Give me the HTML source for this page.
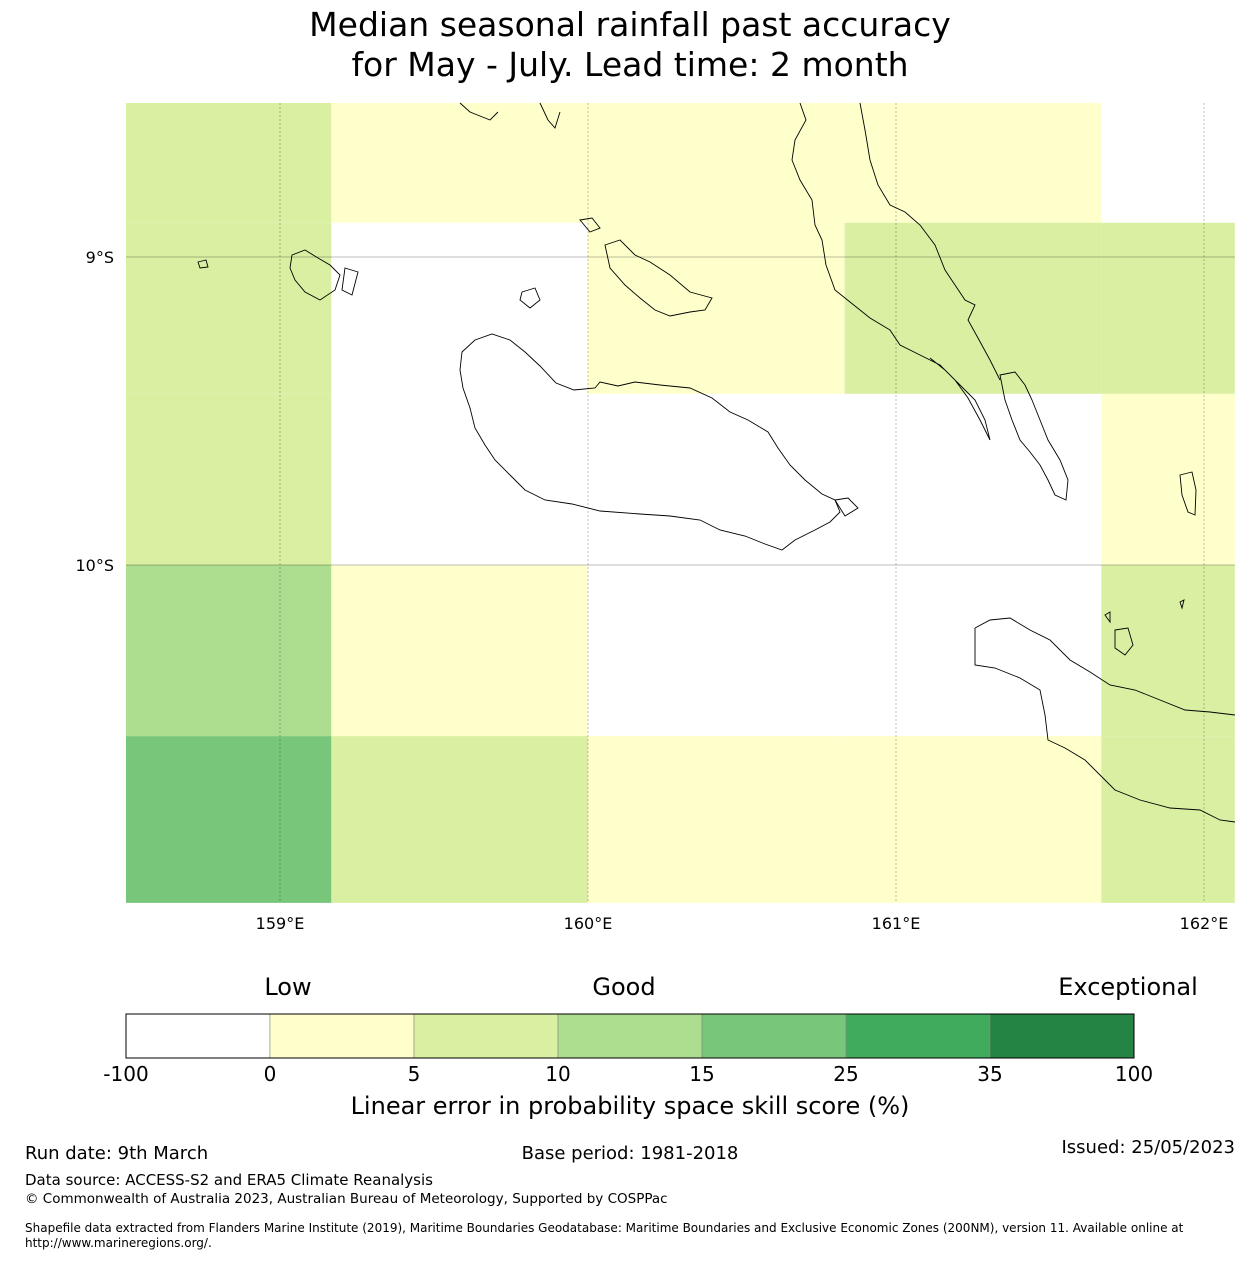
<!DOCTYPE html>
<html><head><meta charset="utf-8"><style>
body{margin:0;background:#fff;font-family:"DejaVu Sans","Liberation Sans",sans-serif;}
svg text{font-family:"DejaVu Sans","Liberation Sans",sans-serif;}
</style></head><body>
<svg id="chart" width="1260" height="1260" xmlns="http://www.w3.org/2000/svg">
<text x="630" y="36" font-size="33" text-anchor="middle">Median seasonal rainfall past accuracy</text>
<text x="630" y="76" font-size="33" text-anchor="middle">for May - July. Lead time: 2 month</text>
<g id="cells"></g>
<g id="grid"></g>
<g fill="none" stroke="#000" stroke-width="0.9">
<path d="M462,352 L475,340 L492,334 L510,340 L525,352 L540,366 L556,383 L574,390 L595,388 L600,382 L618,386 L635,382 L660,385 L690,388 L712,398 L730,412 L748,420 L768,432 L778,448 L790,465 L805,480 L822,494 L835,500 L840,512 L830,522 L815,530 L795,540 L782,550 L765,544 L745,536 L720,530 L700,520 L670,516 L640,514 L600,511 L572,504 L545,500 L525,490 L510,475 L495,460 L485,445 L475,428 L470,408 L463,388 L460,370 Z"/>
<path d="M800,103 L806,120 L795,140 L792,160 L800,180 L812,200 L815,225 L822,240 L826,265 L835,290 L850,302 L870,318 L890,330 L900,345 L920,355 L940,365 L955,380 L968,398 L980,420 L990,440 L985,420 L975,400 L960,385 L945,370 L930,358"/>
<path d="M860,103 L865,130 L870,160 L878,185 L890,205 L905,212 L920,225 L935,245 L945,270 L955,285 L965,300 L975,305 L968,320 L978,338 L990,360 L1000,380"/>
<path d="M1000,375 L1015,372 L1025,385 L1032,400 L1040,420 L1048,440 L1060,460 L1068,480 L1066,500 L1055,495 L1048,480 L1040,465 L1030,452 L1020,440 L1012,420 L1005,400 Z"/>
<path d="M975,628 L990,620 L1010,618 L1030,630 L1050,640 L1070,660 L1090,672 L1110,685 L1135,690 L1160,700 L1185,710 L1210,712 L1235,715 M975,628 L975,665 L995,668 L1020,678 L1040,690 L1045,715 L1048,740 L1065,748 L1085,760 L1100,775 L1115,790 L1140,800 L1170,808 L1200,810 L1220,820 L1235,822"/>
<path d="M605,245 L620,240 L635,255 L650,262 L670,275 L690,292 L712,298 L705,310 L690,312 L670,316 L655,310 L640,298 L625,285 L610,268 Z M580,220 L592,218 L600,228 L590,232 Z"/>
<path d="M292,255 L305,250 L318,258 L330,265 L340,275 L335,290 L320,300 L305,292 L295,280 L290,268 Z M345,268 L358,272 L352,295 L342,290 Z M522,292 L535,288 L540,300 L530,308 L520,300 Z M198,262 L206,260 L208,267 L200,268 Z"/>
<path d="M460,103 L470,112 L490,120 L498,112 M540,103 L548,120 L555,128 L560,112"/>
<path d="M1180,475 L1192,472 L1196,490 L1195,515 L1188,512 L1182,495 Z M1115,630 L1128,628 L1133,645 L1125,655 L1115,648 Z M1105,615 L1110,612 L1110,622 Z M835,500 L848,498 L858,508 L845,516 Z M1180,602 L1184,600 L1182,608 Z"/>
</g>
<g id="xticks" font-size="16" text-anchor="middle"></g>
<g id="yticks" font-size="16" text-anchor="end"></g>
<text x="288" y="995" font-size="24" text-anchor="middle">Low</text>
<text x="624" y="995" font-size="24" text-anchor="middle">Good</text>
<text x="1128" y="995" font-size="24" text-anchor="middle">Exceptional</text>
<g id="cbar"></g>
<text x="630" y="1114" font-size="24" text-anchor="middle">Linear error in probability space skill score (%)</text>
<text x="25" y="1159" font-size="18">Run date: 9th March</text>
<text x="630" y="1159" font-size="18" text-anchor="middle">Base period: 1981-2018</text>
<text x="1235" y="1153" font-size="18" text-anchor="end">Issued: 25/05/2023</text>
<text x="25" y="1185" font-size="15">Data source: ACCESS-S2 and ERA5 Climate Reanalysis</text>
<text x="25" y="1203" font-size="13.5">© Commonwealth of Australia 2023, Australian Bureau of Meteorology, Supported by COSPPac</text>
<text x="25" y="1232" font-size="12">Shapefile data extracted from Flanders Marine Institute (2019), Maritime Boundaries Geodatabase: Maritime Boundaries and Exclusive Economic Zones (200NM), version 11. Available online at</text>
<text x="25" y="1247" font-size="12">http://www.marineregions.org/.</text>
</svg>
<script>
const lonEdges=[158.5,159.1667,160.0,160.8333,161.6667,162.1];
const latEdges=[-8.5,-8.8889,-9.4444,-10.0,-10.5556,-11.097];
const levels=[
 [2,1,1,1,0],
 [2,0,1,2,2],
 [2,0,0,0,1],
 [3,1,0,0,2],
 [4,2,1,1,2]];
const bounds=["-100","0","5","10","15","25","35","100"];
const palette=["#ffffff","#ffffcc","#d9f0a3","#addd8e","#78c679","#41ab5d","#238443"];
const xTickVals=[159,160,161,162];
const yTickVals=[-9,-10];
const NS="http://www.w3.org/2000/svg";
const X0=126,X1=1235,Y0=103,Y1=903;
function xs(lon){return X0+(lon-158.5)*308;}
function ys(lat){return Y0+(-8.5-lat)*308;}
function mk(t,a,p){const e=document.createElementNS(NS,t);for(const k in a)e.setAttribute(k,a[k]);p.appendChild(e);return e;}
const cells=document.getElementById('cells');
for(let r=0;r<levels.length;r++)for(let c=0;c<levels[r].length;c++){
 const x=xs(lonEdges[c]),x2=Math.min(xs(lonEdges[c+1]),X1),y=ys(latEdges[r]),y2=Math.min(ys(latEdges[r+1]),Y1);
 const e=mk('rect',{x:x,y:y,width:x2-x,height:y2-y,fill:palette[levels[r][c]]},cells);
 
 
}
const grid=document.getElementById('grid'),xt=document.getElementById('xticks'),yt=document.getElementById('yticks');
xTickVals.forEach(v=>{
 const l=mk('line',{x1:xs(v),x2:xs(v),y1:Y0,y2:Y1,stroke:'#000','stroke-opacity':0.25,'stroke-width':1,'stroke-dasharray':'2,2'},grid);
 
 
 const t=mk('text',{x:xs(v),y:929},xt);t.textContent=v+'°E';
 
 
});
yTickVals.forEach(v=>{
 const l=mk('line',{x1:X0,x2:X1,y1:ys(v),y2:ys(v),stroke:'#000','stroke-opacity':0.35,'stroke-width':0.7},grid);
 
 
 const t=mk('text',{x:114,y:ys(v)+6},yt);t.textContent=(-v)+'°S';
 
 
});
const cb=document.getElementById('cbar');const segW=144;
for(let i=0;i<7;i++){
 const r=mk('rect',{x:126+i*segW,y:1014,width:segW,height:44,fill:palette[i],stroke:'#888','stroke-width':0.6},cb);
 
 
}
const fr=mk('rect',{x:126,y:1014,width:segW*7,height:44,fill:'none',stroke:'#000','stroke-width':1},cb);


bounds.forEach((b,i)=>{
 const t=mk('text',{x:126+i*segW,y:1081,'font-size':20,'text-anchor':'middle'},cb);t.textContent=b;
 
 
});
</script>
</body></html>
